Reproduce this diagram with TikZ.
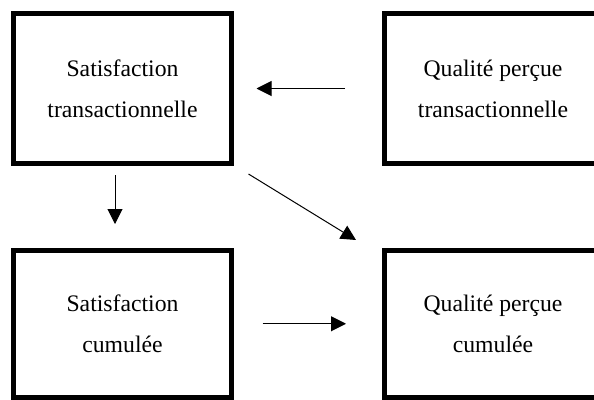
\documentclass[tikz,border=0pt]{standalone}
\usepackage{fontspec}
\setmainfont{Liberation Serif}
\usetikzlibrary{arrows.meta}

\begin{document}
\begin{tikzpicture}[x=1pt, y=-1pt,
		box/.style={draw, line width=5pt, outer sep=0pt, minimum width=218pt, align=center, font=\fontsize{23.7}{41}\selectfont},
		link/.style={line width=1pt, -{Triangle[length=15pt, width=15pt]}}]
		%%%%% START %%%%%
		
		\useasboundingbox (0, 0) rectangle (594, 399);
		\clip (0, 0) rectangle (594, 399);
		
		\node[box, minimum height=150pt] (st) at (122.5, 88.5) {Satisfaction\\transactionnelle};
		\node[box, minimum height=150pt] (qpt) at (493, 88.5) {Qualité perçue\\transactionnelle};
		\node[box, minimum height=147.5pt] (sc) at (122.5, 323.75) {Satisfaction\\cumulée};
		\node[box, minimum height=147.5pt] (qpc) at (493, 323.75) {Qualité perçue\\cumulée};
		
		\draw[link, shorten <=39pt, shorten >=25pt] (qpt.west) -- (st.east);
		\draw[link, shorten <=11.5pt, shorten >=26pt] ([xshift=-7.5pt]st.south) -- ([xshift=-7.5pt]sc.north);
		\draw[link] ([shift={(17, 10.5)}]st.south east) -- ([shift={(-28, -10)}]qpc.north west);
		\draw[link, shorten <=31pt, shorten >=38pt] (sc.east) -- (qpc.west);
		
		%%%%% END %%%%%
	\end{tikzpicture}
\end{document}
